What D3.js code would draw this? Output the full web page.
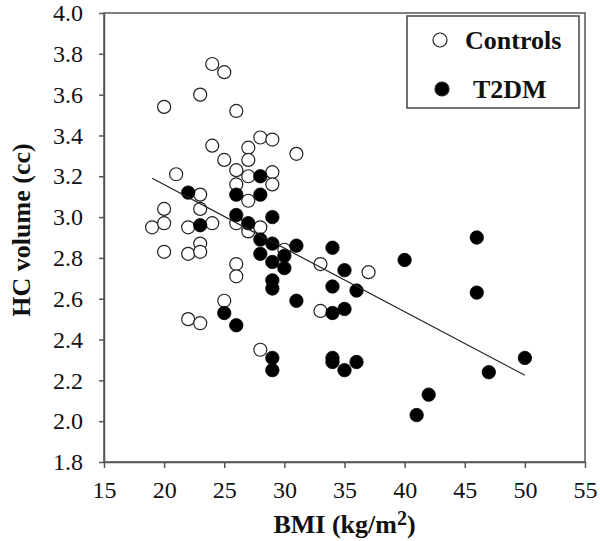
<!DOCTYPE html>
<html><head><meta charset="utf-8">
<script src="https://cdn.jsdelivr.net/npm/d3@7"></script>
<style>
html,body{margin:0;padding:0;background:#fff;}
svg{display:block;font-family:"Liberation Serif","Times New Roman",serif;}
</style></head>
<body>
<svg id="chart" width="600" height="541"></svg>
<script>
// ---- data ----
const controlsBMI = [24,25,23,20,26,28,29,24,27,31,25,27,26,29,21,27,26,29,23,27,20,23,19,20,22,24,26,27,28,23,20,22,23,30,26,26,33,37,25,33,22,23,28];
const controlsHC  = [3.75,3.71,3.60,3.54,3.52,3.39,3.38,3.35,3.34,3.31,3.28,3.28,3.23,3.22,3.21,3.20,3.16,3.16,3.11,3.08,3.04,3.04,2.95,2.97,2.95,2.97,2.97,2.93,2.95,2.87,2.83,2.82,2.83,2.84,2.77,2.71,2.77,2.73,2.59,2.54,2.50,2.48,2.35];
const t2dmBMI = [28,22,26,28,26,29,23,27,28,29,31,34,28,30,29,30,35,29,34,29,36,31,35,34,25,26,29,29,34,34,36,35,40,46,46,50,47,42,41];
const t2dmHC  = [3.20,3.12,3.11,3.11,3.01,3.00,2.96,2.97,2.89,2.87,2.86,2.85,2.82,2.81,2.78,2.75,2.74,2.69,2.66,2.65,2.64,2.59,2.55,2.53,2.53,2.47,2.31,2.25,2.31,2.29,2.29,2.25,2.79,2.90,2.63,2.31,2.24,2.13,2.03];
const trendBMI = [19, 50];
const trendHC  = [3.19, 2.225];
const xTicks = [15,20,25,30,35,40,45,50,55];
const yTicks = [1.8,2.0,2.2,2.4,2.6,2.8,3.0,3.2,3.4,3.6,3.8,4.0];
const legendLabels = ["Controls","T2DM"];

const svg = d3.select("#chart");
const pL = 104, pR = 585, pT = 13, pB = 462;
const x = d3.scaleLinear().domain([15,55]).range([pL,pR]);
const y = d3.scaleLinear().domain([1.8,4.0]).range([pB,pT]);
const frameColor = "#555";

// frame
svg.append("rect").attr("x",pL).attr("y",pT).attr("width",pR-pL).attr("height",pB-pT)
  .attr("fill","none").attr("stroke",frameColor).attr("stroke-width",1.5);

// x axis
const gx = svg.append("g").attr("transform",`translate(0,${pB})`)
  .call(d3.axisBottom(x).tickValues(xTicks).tickSize(6).tickSizeOuter(0).tickPadding(13).tickFormat(d3.format("d")));
gx.select(".domain").attr("stroke",frameColor).attr("stroke-width",1.5);
gx.selectAll(".tick line").attr("stroke",frameColor).attr("stroke-width",1.5);
gx.selectAll(".tick text").attr("font-size",24).attr("fill","#111").attr("font-family","Liberation Serif").attr("dy","0.71em");

// y axis
const gy = svg.append("g").attr("transform",`translate(${pL},0)`)
  .call(d3.axisLeft(y).tickValues(yTicks).tickSize(5).tickSizeOuter(0).tickPadding(16).tickFormat(d3.format(".1f")));
gy.select(".domain").attr("stroke",frameColor).attr("stroke-width",1.5);
gy.selectAll(".tick line").attr("stroke",frameColor).attr("stroke-width",1.5);
gy.selectAll(".tick text").attr("font-size",24).attr("fill","#111").attr("font-family","Liberation Serif");

// axis titles
const xt = svg.append("text").attr("x",(pL+pR)/2).attr("y",533).attr("text-anchor","middle")
  .attr("font-size",26).attr("font-weight","bold").attr("fill","#111");
xt.append("tspan").text("BMI (kg/m");
xt.append("tspan").attr("dy",-8).attr("font-size",20).text("2");
xt.append("tspan").attr("dy",8).text(")");

svg.append("text").attr("transform","translate(30,230) rotate(-90)").attr("text-anchor","middle")
  .attr("font-size",26).attr("font-weight","bold").attr("fill","#111").text("HC volume (cc)");

// points
const controls = controlsBMI.map((b,i)=>({b,h:controlsHC[i]}));
const t2dm = t2dmBMI.map((b,i)=>({b,h:t2dmHC[i]}));
svg.append("g").selectAll("circle").data(controls).join("circle")
  .attr("cx",d=>x(d.b)).attr("cy",d=>y(d.h)).attr("r",6.5)
  .attr("fill","#fff").attr("stroke","#222").attr("stroke-width",1.2);
svg.append("g").selectAll("circle").data(t2dm).join("circle")
  .attr("cx",d=>x(d.b)).attr("cy",d=>y(d.h)).attr("r",6.7)
  .attr("fill","#000").attr("stroke","#000").attr("stroke-width",0.8);

// trend line
svg.append("path").datum(trendBMI.map((b,i)=>[b,trendHC[i]]))
  .attr("d",d3.line().x(d=>x(d[0])).y(d=>y(d[1])))
  .attr("stroke","#222").attr("stroke-width",1.2).attr("fill","none");

// legend
svg.append("rect").attr("x",407).attr("y",16).attr("width",172).attr("height",92)
  .attr("fill","#fff").attr("stroke","#444").attr("stroke-width",1.5);
const lg = svg.append("g").selectAll("g").data(legendLabels).join("g")
  .attr("transform",(d,i)=>`translate(0,${40+i*49})`);
lg.append("circle").attr("cx",(d,i)=>440+i*2).attr("cy",0).attr("r",7)
  .attr("fill",(d,i)=>i?"#000":"#fff").attr("stroke","#222").attr("stroke-width",1.2);
lg.append("text").attr("x",(d,i)=>i?473:465).attr("y",0).attr("dy","0.35em")
  .attr("font-size",26).attr("font-weight","bold").attr("fill","#111").text(d=>d);
</script>
</body></html>
